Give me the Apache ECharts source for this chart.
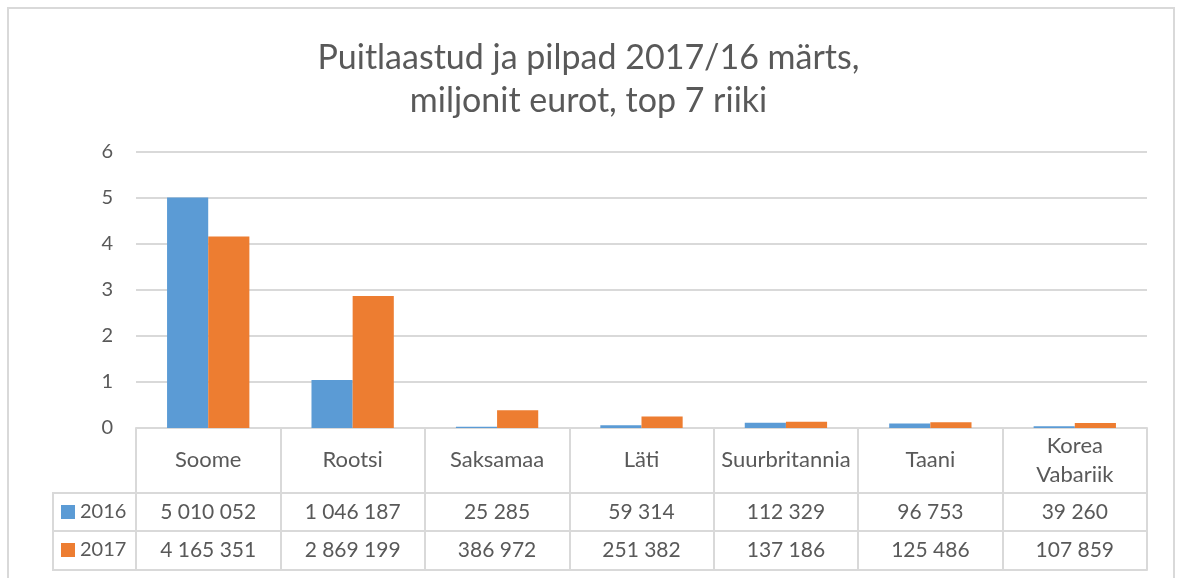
<!DOCTYPE html>
<html>
<head>
<meta charset="utf-8">
<script src="https://cdn.jsdelivr.net/npm/echarts@6/dist/echarts.min.js"></script>
<style>
  html, body { margin: 0; padding: 0; background: #fff; }
  #main { width: 1177px; height: 578px; }
</style>
</head>
<body>
<div id="main"></div>
<script>
const categories = ['Soome', 'Rootsi', 'Saksamaa', 'Läti', 'Suurbritannia', 'Taani', 'Korea Vabariik'];
const years = ['2016', '2017'];
const values2016 = [5010052, 1046187, 25285, 59314, 112329, 96753, 39260];
const values2017 = [4165351, 2869199, 386972, 251382, 137186, 125486, 107859];
const yTicks = [0, 1, 2, 3, 4, 5, 6];

const FONT = 'Lato, "Open Sans", sans-serif';
const TXT = '#595959';
const LINE = '#d9d9d9';

// 5010052 -> "5 010 052"
const fmt = (v) => String(v).replace(/\B(?=(\d{3})+(?!\d))/g, ' ');

let myChart = echarts.init(document.getElementById('main'));

const tableAxis = (data, offset, show) => ({
  type: 'category',
  position: 'bottom',
  offset: offset,
  data: data,
  axisLine: { show: true, lineStyle: { color: LINE, width: 2 } },
  axisTick: { show: false },
  axisLabel: {
    show: show,
    interval: 0,
    margin: 19,
    verticalAlign: 'middle',
    color: TXT,
    fontSize: 21,
    fontFamily: FONT
  }
});

const legendItem = (name, top) => ({
  data: [name],
  left: 56,
  top: top,
  itemWidth: 14,
  itemHeight: 14,
  itemGap: 0,
  icon: 'rect',
  textStyle: { fontSize: 20, color: TXT, fontFamily: FONT }
});

myChart.setOption({
  animation: false,
  textStyle: { fontFamily: FONT },
  title: {
    text: 'Puitlaastud ja pilpad 2017/16 märts,\nmiljonit eurot, top 7 riiki',
    left: 'center',
    top: 32,
    textStyle: {
      fontSize: 34,
      fontWeight: 'normal',
      color: TXT,
      lineHeight: 43,
      fontFamily: FONT
    }
  },
  legend: [legendItem(years[0], 497), legendItem(years[1], 535)],
  grid: {
    left: 136,
    right: 30,
    top: 152,
    height: 276
  },
  xAxis: [
    {
      type: 'category',
      data: categories,
      axisLine: { show: true, lineStyle: { color: LINE, width: 2 } },
      axisTick: { show: true, interval: 0, length: 142, lineStyle: { color: LINE, width: 2 } },
      axisLabel: {
        interval: 0,
        margin: 32,
        verticalAlign: 'middle',
        lineHeight: 29,
        color: TXT,
        fontSize: 22,
        fontFamily: FONT,
        formatter: (v) => v.replace(' ', '\n')
      }
    },
    tableAxis(values2016.map(fmt), 65, true),
    tableAxis(values2017.map(fmt), 103, true),
    tableAxis(categories, 142, false)
  ],
  yAxis: {
    type: 'value',
    min: yTicks[0],
    max: yTicks[yTicks.length - 1],
    interval: 1,
    axisLine: { show: false },
    axisTick: { show: false },
    axisLabel: { color: TXT, fontSize: 20, margin: 23, fontFamily: FONT },
    splitLine: { lineStyle: { color: LINE, width: 2 } }
  },
  series: [
    {
      name: years[0],
      type: 'bar',
      data: values2016.map((v) => v / 1e6),
      itemStyle: { color: '#5b9bd5' },
      barCategoryGap: '43%',
      barGap: '0%'
    },
    {
      name: years[1],
      type: 'bar',
      data: values2017.map((v) => v / 1e6),
      itemStyle: { color: '#ed7d31' },
      barCategoryGap: '43%',
      barGap: '0%'
    }
  ],
  graphic: [
    // outer chart border
    { type: 'rect', shape: { x: 8, y: 8, width: 1166, height: 600 }, style: { fill: 'none', stroke: LINE, lineWidth: 2 }, silent: true },
    // legend column of the data table
    { type: 'line', shape: { x1: 53, y1: 493, x2: 136, y2: 493 }, style: { stroke: LINE, lineWidth: 2 } },
    { type: 'line', shape: { x1: 53, y1: 531, x2: 136, y2: 531 }, style: { stroke: LINE, lineWidth: 2 } },
    { type: 'line', shape: { x1: 53, y1: 570, x2: 136, y2: 570 }, style: { stroke: LINE, lineWidth: 2 } },
    { type: 'line', shape: { x1: 53, y1: 492, x2: 53, y2: 571 }, style: { stroke: LINE, lineWidth: 2 } }
  ]
});

window.onresize = function () {
  myChart.resize();
};
</script>
</body>
</html>
